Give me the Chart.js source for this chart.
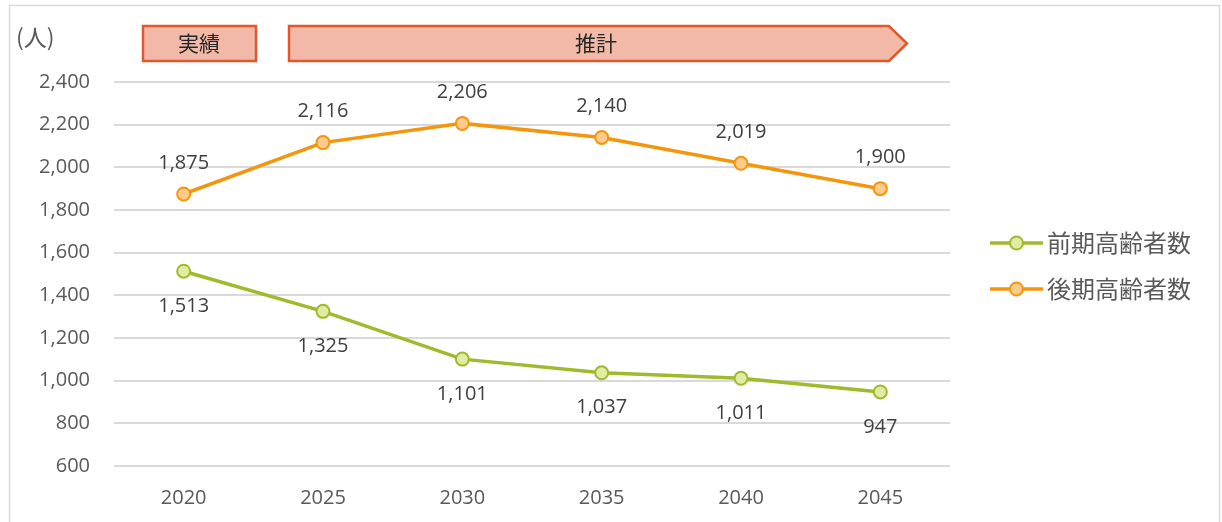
<!DOCTYPE html>
<html>
<head>
<meta charset="utf-8">
<script src="https://cdn.jsdelivr.net/npm/chart.js@4"></script>
<style>
  body { margin: 0; background: #fff; }
  #wrap { width: 1222px; height: 522px; }
</style>
</head>
<body>
<div id="wrap"><canvas id="chart" width="1222" height="522"></canvas></div>
<script>
// データ
var years = ['2020', '2025', '2030', '2035', '2040', '2045'];
var zenki = [1513, 1325, 1101, 1037, 1011, 947];   // 前期高齢者数
var kouki = [1875, 2116, 2206, 2140, 2019, 1900];  // 後期高齢者数
var seriesNames = ['前期高齢者数', '後期高齢者数'];
var yTicks = { min: 600, max: 2400, step: 200 };
var unitLabel = '(人)';
var phaseLabels = ['実績', '推計'];

var FONT = '"Open Sans", "Noto Sans CJK JP", sans-serif';
var JFONT = '"Noto Sans CJK JP", sans-serif';

function fmt(v) { return v.toLocaleString('en-US'); }

// 枠、見出し、凡例、データラベル
var extras = {
  id: 'extras',
  afterDraw: function(chart) {
    var c = chart.ctx;
    c.save();
    // 外枠
    c.strokeStyle = '#D9D9D9';
    c.lineWidth = 1.5;
    c.strokeRect(9.5, 5.5, 1210, 530);

    // (人)
    c.fillStyle = '#595959';
    c.font = '23px ' + JFONT;
    c.textAlign = 'left';
    c.textBaseline = 'middle';
    c.fillText(unitLabel, 16, 37);

    // 実績・推計
    c.fillStyle = '#F2B9A8';
    c.strokeStyle = '#E0582B';
    c.lineWidth = 2.5;
    c.beginPath();
    c.rect(143, 26, 113, 35);
    c.fill(); c.stroke();
    c.beginPath();
    c.moveTo(289, 26); c.lineTo(889, 26); c.lineTo(907, 43.5);
    c.lineTo(889, 61); c.lineTo(289, 61); c.closePath();
    c.fill(); c.stroke();
    c.fillStyle = '#262626';
    c.font = '21px ' + JFONT;
    c.textAlign = 'center';
    c.fillText(phaseLabels[0], 199, 43);
    c.fillText(phaseLabels[1], 596, 43);

    // データラベル
    c.font = '20px ' + FONT;
    c.fillStyle = '#404040';
    chart.data.datasets.forEach(function(ds, i) {
      var meta = chart.getDatasetMeta(i);
      meta.data.forEach(function(pt, j) {
        var dy = i === 0 ? 35 : -31;
        c.fillText(fmt(ds.data[j]), pt.x, pt.y + dy);
      });
    });

    // 凡例
    var ly = [243, 289];
    chart.data.datasets.forEach(function(ds, i) {
      c.strokeStyle = ds.borderColor;
      c.lineWidth = 3.5;
      c.beginPath();
      c.moveTo(990, ly[i]); c.lineTo(1043, ly[i]);
      c.stroke();
      c.beginPath();
      c.arc(1016.5, ly[i], 6.5, 0, Math.PI * 2);
      c.fillStyle = ds.pointBackgroundColor;
      c.fill();
      c.lineWidth = 2;
      c.stroke();
      c.fillStyle = '#595959';
      c.font = '24px ' + JFONT;
      c.textAlign = 'left';
      c.fillText(ds.label, 1047, ly[i]);
    });
    c.restore();
  }
};

var ctx = document.getElementById('chart');
var myChart = new Chart(ctx, {
  type: 'line',
  data: {
    labels: years,
    datasets: [
      {
        label: seriesNames[0],
        data: zenki,
        borderColor: '#9FBA2B',
        backgroundColor: '#9FBA2B',
        pointBackgroundColor: '#E2EBA4',
        pointBorderColor: '#9FBA2B',
        borderWidth: 3.5,
        pointRadius: 6.5,
        pointBorderWidth: 2
      },
      {
        label: seriesNames[1],
        data: kouki,
        borderColor: '#F4960C',
        backgroundColor: '#F4960C',
        pointBackgroundColor: '#FDCB8C',
        pointBorderColor: '#F4960C',
        borderWidth: 3.5,
        pointRadius: 6.5,
        pointBorderWidth: 2
      }
    ]
  },
  options: {
    responsive: false,
    animation: false,
    layout: { padding: { left: 0, right: 272, top: 82, bottom: 0 } },
    plugins: {
      legend: { display: false },
      tooltip: { enabled: false }
    },
    scales: {
      x: {
        offset: true,
        grid: { display: false, drawTicks: false },
        border: { display: false },
        ticks: { color: '#595959', font: { size: 20, family: FONT }, padding: 20 },
        afterFit: function(s) { s.height = 56; }
      },
      y: {
        min: yTicks.min,
        max: yTicks.max,
        grid: { color: '#D9D9D9', lineWidth: 2, drawTicks: false },
        border: { display: false },
        ticks: {
          stepSize: yTicks.step,
          color: '#595959',
          font: { size: 20, family: FONT },
          padding: 24,
          callback: function(v) { return fmt(v); }
        },
        afterFit: function(s) { s.width = 114; }
      }
    }
  },
  plugins: [extras]
});
</script>
</body>
</html>
